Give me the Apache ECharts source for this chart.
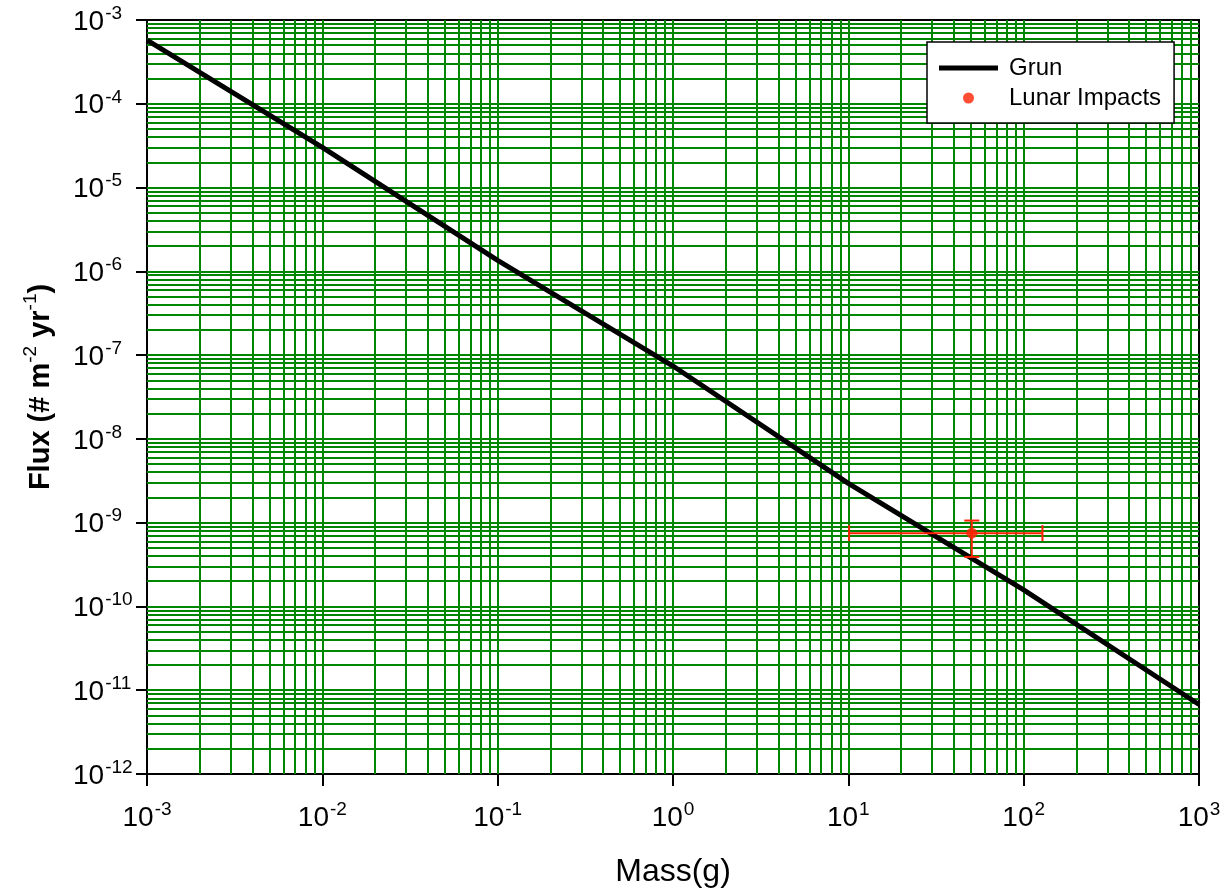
<!DOCTYPE html>
<html>
<head>
<meta charset="utf-8">
<script src="https://cdn.jsdelivr.net/npm/echarts@6/dist/echarts.min.js"></script>
<style>
  html, body { margin: 0; padding: 0; background: #ffffff; }
  #chart { width: 1224px; height: 890px; }
</style>
</head>
<body>
<div id="chart"></div>
<script>
// Grun interplanetary flux model, sampled once per decade of mass
const massGrams = [1e-3, 1e-2, 1e-1, 1, 10, 100, 1000];
const grunFlux = [5.75e-4, 3.02e-5, 1.35e-6, 7.41e-8, 2.95e-9, 1.58e-10, 6.76e-12];

// Observed lunar impact flux with its mass and flux ranges
const impactMass = [50.6];
const impactFlux = [7.5e-10];
const impactMassLow = [10.1];
const impactMassHigh = [128];
const impactFluxLow = [3.9e-10];
const impactFluxHigh = [1.06e-9];

// Log-decade grid: a line at every 1..9 step inside each decade
const massDecades = [1e-3, 1e-2, 1e-1, 1, 10, 100];
const fluxDecades = [1e-12, 1e-11, 1e-10, 1e-9, 1e-8, 1e-7, 1e-6, 1e-5, 1e-4];
const gridSteps = [1, 2, 3, 4, 5, 6, 7, 8, 9];

const MASS_MIN = 1e-3, MASS_MAX = 1e3;
const FLUX_MIN = 1e-12, FLUX_MAX = 1e-3;

const FONT = '"Liberation Sans", Arial, sans-serif';
const GRID_GREEN = '#008600';
const IMPACT_RED = '#ff2200';

// each grid line is a pair of end points in data space
const gridMarks = [];
massDecades.forEach(function (d) {
  gridSteps.forEach(function (s) {
    if (d === MASS_MIN && s === 1) return;
    gridMarks.push([{ coord: [d * s, FLUX_MIN] }, { coord: [d * s, FLUX_MAX] }]);
  });
});
fluxDecades.forEach(function (d) {
  gridSteps.forEach(function (s) {
    if (d === FLUX_MIN && s === 1) return;
    gridMarks.push([{ coord: [MASS_MIN, d * s] }, { coord: [MASS_MAX, d * s] }]);
  });
});

const grunData = massGrams.map(function (m, i) { return [m, grunFlux[i]]; });
const impactData = impactMass.map(function (m, i) { return [m, impactFlux[i]]; });
const impactBars = impactMass.map(function (m, i) {
  return [m, impactFlux[i], impactMassLow[i], impactMassHigh[i], impactFluxLow[i], impactFluxHigh[i]];
});

function powerLabel(value) {
  const e = Math.round(Math.log10(value));
  return '{b|10}{s|' + e + '}';
}

const tickRich = {
  b: { fontFamily: FONT, fontSize: 28, color: '#000', lineHeight: 32, verticalAlign: 'bottom' },
  s: { fontFamily: FONT, fontSize: 19, color: '#000', lineHeight: 19, verticalAlign: 'top', padding: [0, 0, 0, 1] }
};

const chart = echarts.init(document.getElementById('chart'), null, { renderer: 'canvas' });

chart.setOption({
  animation: false,
  backgroundColor: '#ffffff',
  grid: {
    left: 147, right: 25, top: 20, bottom: 116,
    show: true, borderColor: '#000', borderWidth: 2,
    outerBoundsMode: 'none'
  },
  legend: {
    orient: 'vertical',
    left: 927, top: 42,
    backgroundColor: '#ffffff',
    borderColor: '#000', borderWidth: 1.5, borderRadius: 0,
    padding: [14, 13, 13, 12],
    itemWidth: 59, itemHeight: 11, itemGap: 6,
    symbolKeepAspect: true,
    textStyle: { fontFamily: FONT, fontSize: 24, color: '#000', padding: [0, 0, 0, 6] },
    data: [
      { name: 'Grun', icon: 'path://M0,0 L59,0 L59,5 L0,5 Z', itemStyle: { color: '#000' } },
      { name: 'Lunar Impacts', icon: 'circle', itemStyle: { color: IMPACT_RED } }
    ]
  },
  xAxis: {
    type: 'log', logBase: 10, min: MASS_MIN, max: MASS_MAX, splitNumber: 6,
    axisLine: { show: true, lineStyle: { color: '#000', width: 2 } },
    axisTick: { show: true, inside: false, length: 12, lineStyle: { color: '#000', width: 2 } },
    minorTick: { show: false },
    splitLine: { show: false },
    axisLabel: { formatter: powerLabel, rich: tickRich, margin: 26, color: '#000' },
    name: 'Mass(g)',
    nameLocation: 'middle',
    nameGap: 82,
    nameMoveOverlap: false,
    nameTextStyle: { fontFamily: FONT, fontSize: 32, color: '#000' }
  },
  yAxis: {
    type: 'log', logBase: 10, min: FLUX_MIN, max: FLUX_MAX, splitNumber: 9,
    axisLine: { show: true, lineStyle: { color: '#000', width: 2 } },
    axisTick: { show: true, inside: false, length: 11, lineStyle: { color: '#000', width: 2 } },
    minorTick: { show: false },
    splitLine: { show: false },
    axisLabel: { formatter: powerLabel, rich: tickRich, margin: 74, align: 'left', color: '#000' },
    name: '{t|Flux (# m}{u|-2}{t| yr}{u|-1}{t|)}',
    nameLocation: 'middle',
    nameRotate: 90,
    nameGap: 92,
    nameMoveOverlap: false,
    nameTextStyle: {
      padding: [0, 0, 0, 20],
      rich: {
        t: { fontFamily: FONT, fontSize: 29, fontWeight: 'bold', color: '#000', lineHeight: 34, verticalAlign: 'bottom' },
        u: { fontFamily: FONT, fontSize: 19, color: '#000', lineHeight: 19, verticalAlign: 'top' }
      }
    }
  },
  series: [
    {
      name: 'grid',
      type: 'line',
      data: [],
      silent: true,
      z: 1,
      markLine: {
        silent: true,
        z: 1,
        symbol: ['none', 'none'],
        label: { show: false },
        emphasis: { disabled: true },
        lineStyle: { color: GRID_GREEN, width: 2, type: 'solid' },
        data: gridMarks,
        animation: false
      }
    },
    {
      name: 'Grun',
      type: 'line',
      data: grunData,
      symbol: 'none',
      showSymbol: false,
      z: 5,
      lineStyle: { color: '#000', width: 5 },
      itemStyle: { color: '#000' }
    },
    {
      name: 'Lunar Impacts errors',
      type: 'custom',
      z: 6,
      data: impactBars,
      encode: { x: 0, y: 1 },
      renderItem: function (params, api) {
        const c = api.coord([api.value(0), api.value(1)]);
        const xl = api.coord([api.value(2), api.value(1)]);
        const xh = api.coord([api.value(3), api.value(1)]);
        const yl = api.coord([api.value(0), api.value(4)]);
        const yh = api.coord([api.value(0), api.value(5)]);
        const st = { stroke: IMPACT_RED, lineWidth: 2 };
        const hCap = 8, vCap = 7.5;
        return {
          type: 'group',
          children: [
            { type: 'line', shape: { x1: xl[0], y1: c[1], x2: xh[0], y2: c[1] }, style: st },
            { type: 'line', shape: { x1: xl[0], y1: c[1] - hCap, x2: xl[0], y2: c[1] + hCap }, style: st },
            { type: 'line', shape: { x1: xh[0], y1: c[1] - hCap, x2: xh[0], y2: c[1] + hCap }, style: st },
            { type: 'line', shape: { x1: c[0], y1: yl[1], x2: c[0], y2: yh[1] }, style: st },
            { type: 'line', shape: { x1: c[0] - vCap, y1: yl[1], x2: c[0] + vCap, y2: yl[1] }, style: st },
            { type: 'line', shape: { x1: c[0] - vCap, y1: yh[1], x2: c[0] + vCap, y2: yh[1] }, style: st }
          ]
        };
      }
    },
    {
      name: 'Lunar Impacts',
      type: 'scatter',
      data: impactData,
      symbol: 'circle',
      symbolSize: 11,
      z: 7,
      itemStyle: { color: IMPACT_RED }
    }
  ]
});
</script>
</body>
</html>
